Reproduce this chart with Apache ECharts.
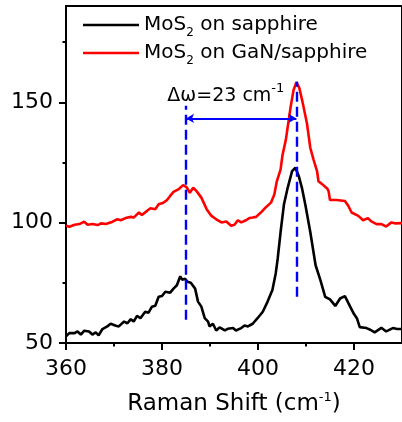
<!DOCTYPE html>
<html><head><meta charset="utf-8">
<script src="https://cdn.jsdelivr.net/npm/echarts@6/dist/echarts.min.js"></script>
<style>html,body{margin:0;padding:0;background:#fff}#c{width:402px;height:422px}</style>
</head><body><div id="c"></div>
<script>
// ---- data ----
const seriesNames = ['MoS2 on sapphire', 'MoS2 on GaN/sapphire'];
const sapphireShift = [360.0,360.7,361.8,362.4,363.1,363.8,364.8,365.5,366.2,366.8,367.6,368.6,369.3,370.4,371.0,372.1,372.8,373.5,374.1,374.8,375.5,376.5,377.2,377.9,378.6,379.3,380.0,380.7,381.7,382.4,383.1,383.8,384.2,384.8,385.3,386.0,386.9,387.5,388.2,388.9,389.6,389.9,390.6,391.3,392.0,393.1,393.7,394.8,395.4,396.5,397.2,397.9,398.9,399.9,401.0,402.0,403.0,403.7,404.1,404.7,405.4,406.1,407.1,407.8,408.5,409.2,409.9,410.9,412.0,413.0,414.0,415.0,416.1,417.1,418.1,419.2,420.0,420.6,421.2,422.6,423.4,424.3,425.7,426.7,428.1,429.0,430.0];
const sapphireIntensity = [52.8,54.1,54.1,54.8,53.5,55.1,54.8,53.5,54.4,53.2,55.8,56.9,58.0,57.2,56.9,58.9,58.2,59.9,58.9,61.3,60.3,63.0,62.6,65.1,65.5,69.2,69.5,71.3,70.9,72.6,74.0,77.7,76.3,76.7,75.4,75.0,72.6,67.2,65.1,60.3,58.9,56.9,58.0,55.2,56.5,55.2,55.9,56.2,55.2,56.2,57.3,56.9,58.0,60.3,63.0,67.2,72.0,79.0,85.0,96.0,107.5,113.8,121.4,122.8,119.3,114.0,107.0,96.0,82.3,76.1,69.2,68.1,65.4,68.5,69.5,65.1,62.0,60.3,56.6,56.2,55.5,54.4,56.3,54.8,56.2,55.8,55.8];
const ganShift = [360.0,360.7,361.8,362.8,363.8,364.5,365.5,366.6,367.3,368.3,369.7,370.7,371.4,372.4,373.5,374.1,375.2,375.8,376.9,377.6,378.6,379.3,380.3,381.0,381.7,382.4,383.4,384.4,385.1,385.8,386.5,387.2,388.2,389.3,390.3,391.3,392.4,393.4,394.4,395.1,395.8,396.5,397.5,398.2,398.9,399.6,400.6,401.6,402.7,403.4,403.9,404.7,405.1,405.8,406.8,407.4,408.0,408.6,409.2,410.2,410.9,411.6,412.3,412.6,413.3,414.4,414.7,415.0,416.4,418.1,418.8,419.5,420.9,421.9,422.9,423.6,424.7,425.7,426.7,427.8,428.5,430.0];
const ganIntensity = [98.7,98.3,99.1,99.4,100.4,99.1,99.4,99.0,99.7,99.4,100.4,101.4,101.0,101.9,102.4,102.1,104.2,103.2,104.9,106.0,105.6,107.6,108.3,109.3,111.1,112.8,113.8,115.6,114.8,112.4,114.5,113.1,110.4,105.6,102.8,101.4,100.1,100.5,98.7,99.1,101.0,100.1,101.0,101.9,102.1,102.4,104.2,106.3,108.3,111.7,117.0,122.0,128.0,134.4,148.1,155.0,158.4,156.0,150.8,141.2,131.0,126.0,121.4,117.2,116.1,114.2,113.1,109.4,109.4,109.0,107.0,104.2,102.8,101.0,101.9,100.5,99.4,99.4,98.4,100.1,99.7,99.8];
const xTicks = [360, 380, 400, 420];
const yTicks = [50, 100, 150];
const peakShift = [385, 408];          // dashed marker positions
const markerLow = [59.7, 69.2];        // dashed marker bottoms
const markerHigh = [148.6, 158.5];     // dashed marker tops
const arrowLevel = 143.3;              // double arrow height
const deltaLabel = 'Δω=23 cm';
const deltaLabelPos = [393.3, 152.6];

// ---- chart ----
const FONT = 'DejaVu Sans';
const zip = (xs, ys) => xs.map((x, i) => [x, ys[i]]);
const chart = echarts.init(document.getElementById('c'), null, {renderer: 'canvas'});
const subName = n => n.replace('MoS2', 'MoS{s|2}');

chart.setOption({
  animation: false,
  backgroundColor: '#fff',
  grid: {left: 66, top: 6, width: 340, height: 341, show: true, borderColor: '#000', borderWidth: 2, backgroundColor: 'transparent'},
  legend: {
    data: seriesNames,
    orient: 'vertical', left: 83, top: 11, padding: 0, itemGap: 0,
    icon: 'rect', itemWidth: 56, itemHeight: 2.6,
    formatter: subName,
    textStyle: {fontFamily: FONT, fontSize: 20, color: '#000', lineHeight: 28,
      rich: {s: {fontFamily: FONT, fontSize: 12, lineHeight: 9, verticalAlign: 'bottom', color: '#000'}}}
  },
  xAxis: {
    type: 'value', min: 360, max: 430, interval: 20,
    name: 'Raman Shift (cm{sup|-1})', nameLocation: 'middle', nameGap: 48,
    nameTextStyle: {fontFamily: FONT, fontSize: 23, color: '#000', lineHeight: 26,
      rich: {sup: {fontFamily: FONT, fontSize: 13, lineHeight: 16, verticalAlign: 'top', color: '#000'}}},
    axisLine: {lineStyle: {color: '#000', width: 2}},
    axisTick: {inside: false, length: 7, lineStyle: {width: 2, color: '#000'}, customValues: xTicks},
    minorTick: {show: true, splitNumber: 2, length: 3.5, lineStyle: {width: 2, color: '#000'}},
    axisLabel: {fontFamily: FONT, fontSize: 22, color: '#000', margin: 15, customValues: xTicks},
    splitLine: {show: false}
  },
  yAxis: {
    type: 'value', min: 50, max: 190, interval: 50,
    axisLine: {show: true, lineStyle: {color: '#000', width: 2}},
    axisTick: {show: true, inside: false, length: 7, lineStyle: {width: 2, color: '#000'}, customValues: yTicks},
    minorTick: {show: true, splitNumber: 2, length: 3.5, lineStyle: {width: 2, color: '#000'}},
    axisLabel: {fontFamily: FONT, fontSize: 22, color: '#000', margin: 13, customValues: yTicks},
    splitLine: {show: false}
  },
  series: [
    {name: seriesNames[0], type: 'line', data: zip(sapphireShift, sapphireIntensity), showSymbol: false, symbol: 'none',
     lineStyle: {color: '#000', width: 2.6}, itemStyle: {color: '#000'}, z: 3},
    {name: seriesNames[1], type: 'line', data: zip(ganShift, ganIntensity), showSymbol: false, symbol: 'none',
     lineStyle: {color: '#ff0000', width: 2.6}, itemStyle: {color: '#ff0000'}, z: 2},
    {name: 'annotation', type: 'line', data: [], z: 4,
     markLine: {
       silent: true, symbol: 'none', label: {show: false},
       data: peakShift.map((x, i) => [
         {coord: [x, markerLow[i]], lineStyle: {color: '#0000ff', width: 2.4, type: [10, 5]}},
         {coord: [x, markerHigh[i]]}
       ]).concat([[
         {coord: [peakShift[0], arrowLevel], symbol: 'arrow', symbolSize: [7, 8], lineStyle: {color: '#0000ff', width: 2.2, type: 'solid'}},
         {coord: [peakShift[1], arrowLevel], symbol: 'arrow', symbolSize: [7, 8]}
       ]])
     },
     markPoint: {
       silent: true, symbol: 'circle', symbolSize: 0,
       data: [{coord: deltaLabelPos}],
       label: {show: true, position: 'inside', formatter: deltaLabel + '{sup|-1}',
         fontFamily: FONT, fontSize: 19, color: '#000', lineHeight: 28,
         rich: {sup: {fontFamily: FONT, fontSize: 13, lineHeight: 13, verticalAlign: 'top', color: '#000'}}}
     }
    }
  ]
});
</script></body></html>
